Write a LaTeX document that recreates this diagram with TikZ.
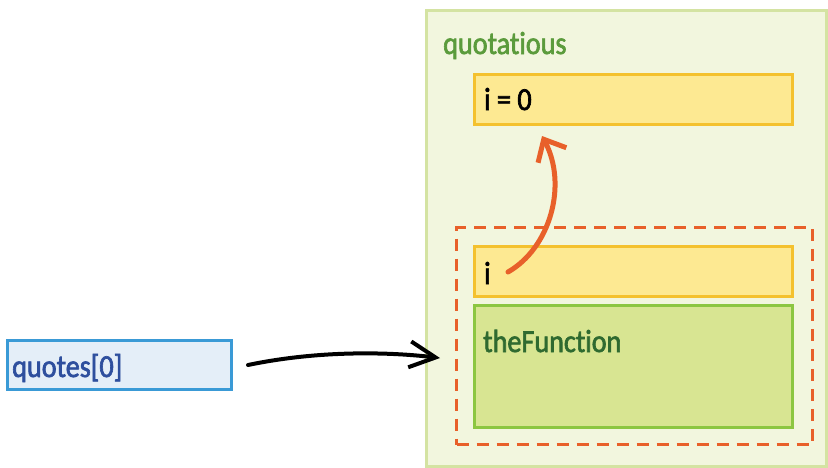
\documentclass[tikz,border=0pt]{standalone}
\usepackage{fontspec}
\setmainfont{Carlito}[Ligatures={NoCommon}, FakeBold=2, FakeStretch=0.88]
\usetikzlibrary{arrows.meta}
\definecolor{outerfill}{HTML}{F2F6DE}
\definecolor{outerdraw}{HTML}{D4E3A2}
\definecolor{qgreen}{HTML}{5B9B3C}
\definecolor{yfill}{HTML}{FDE992}
\definecolor{ydraw}{HTML}{F4C12E}
\definecolor{gfill}{HTML}{D8E592}
\definecolor{gdraw}{HTML}{8CC641}
\definecolor{fgreen}{HTML}{2F6A30}
\definecolor{bfill}{HTML}{E4EEF8}
\definecolor{bdraw}{HTML}{3A9AD6}
\definecolor{btext}{HTML}{2E4F9E}
\definecolor{dorange}{HTML}{E8602A}
\tikzset{
  box/.style={draw, line width=3pt, inner sep=0pt, anchor=north west},
  lbl/.style={anchor=base west, inner sep=0pt, font=\fontsize{32}{34}\selectfont},
}
\begin{document}
\begin{tikzpicture}[x=1pt,y=-1pt]
\useasboundingbox (0,0) rectangle (828,467);
% outer frame
\node[box, draw=outerdraw, fill=outerfill, minimum width=400pt, minimum height=456pt] (outer) at (425,9) {};
\node[lbl, text=qgreen] (qtitle) at (443,54) {quotatious};
% i = 0
\node[box, draw=ydraw, fill=yfill, minimum width=318pt, minimum height=50pt] (izero) at (473,73) {};
\node[lbl, text=black] (izerot) at (484,110) {i = 0};
% dashed scope
\node[box, draw=dorange, dash pattern=on 12pt off 8pt, line width=3pt, minimum width=356pt, minimum height=217pt] (scope) at (455,226) {};
% i
\node[box, draw=ydraw, fill=yfill, minimum width=318pt, minimum height=50pt] (ibox) at (473,245) {};
\node[lbl, text=black] (it) at (484,284) {i};
% theFunction
\node[box, draw=gdraw, fill=gfill, minimum width=318pt, minimum height=122pt] (fbox) at (473,304) {};
\node[lbl, text=fgreen] (ft) at (483,352) {theFunction};
% quotes[0]
\node[box, draw=bdraw, fill=bfill, minimum width=224pt, minimum height=49pt] (qbox) at (6,339) {};
\node[lbl, text=btext] (qt) at (12,377) {quotes[0]};
% arrows
\coordinate (bstart) at (248,365);
\coordinate (bend) at (440,358);
\draw[line width=4pt, line cap=round, -{Straight Barb[length=26pt,width=26pt,line width=4pt]}] (bstart) .. controls (320,350) and (390,352) .. (bend);
\coordinate (ostart) at (508,272);
\coordinate (oend) at (542,136);
\draw[dorange, line width=5pt, line cap=round, -{Straight Barb[length=18pt,width=32pt,line width=5pt]}] (ostart) .. controls (550,248) and (568,185) .. (oend);
\end{tikzpicture}
\end{document}
